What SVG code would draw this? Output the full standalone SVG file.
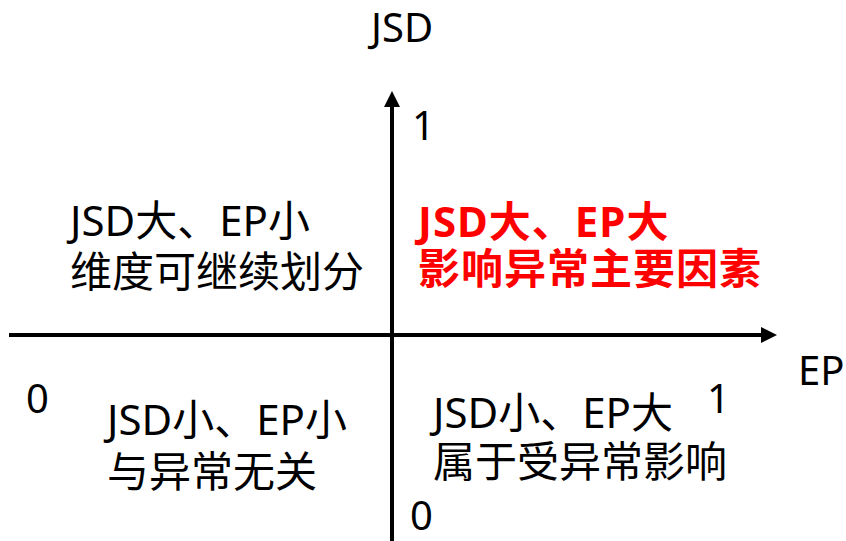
<svg xmlns="http://www.w3.org/2000/svg" width="846" height="541" viewBox="0 0 846 541">
<style>
text{font-family:"Noto Sans","Noto Sans CJK SC",sans-serif;font-size:42px;fill:#000}
.lab{font-size:40px}
.hot{fill:#ff0000;font-weight:bold;letter-spacing:1px}
.axis{stroke:#000;stroke-width:4;fill:none}
</style>
<defs>
<marker id="ah" viewBox="0 0 16 16" refX="0" refY="8" markerWidth="16" markerHeight="16" markerUnits="userSpaceOnUse" orient="auto">
<path d="M0,0 L16,8 L0,16 Z" fill="#000"/>
</marker>
</defs>
<rect width="846" height="541" fill="#fff"/>
<g id="connectors">
<line class="axis" x1="9" y1="335" x2="761" y2="335" marker-end="url(#ah)"/>
<line class="axis" x1="392" y1="541" x2="392" y2="107" marker-end="url(#ah)"/>
</g>
<g id="axis-labels">
<text class="lab" x="371" y="42">JSD</text>
<text class="lab" x="412" y="140">1</text>
<text class="lab" x="798" y="385">EP</text>
<text class="lab" x="26" y="413">0</text>
<text class="lab" x="707" y="413">1</text>
<text class="lab" x="410" y="530">0</text>
</g>
<g id="q-top-left">
<text x="70" y="236">JSD大、EP小</text>
<text x="70" y="287">维度可继续划分</text>
</g>
<g id="q-top-right">
<text class="hot" x="418" y="237">JSD大、EP大</text>
<text class="hot" x="418" y="284">影响异常主要因素</text>
</g>
<g id="q-bottom-left">
<text x="107" y="435">JSD小、EP小</text>
<text x="107" y="487">与异常无关</text>
</g>
<g id="q-bottom-right">
<text x="433" y="428">JSD小、EP大</text>
<text x="433" y="477">属于受异常影响</text>
</g>
</svg>
